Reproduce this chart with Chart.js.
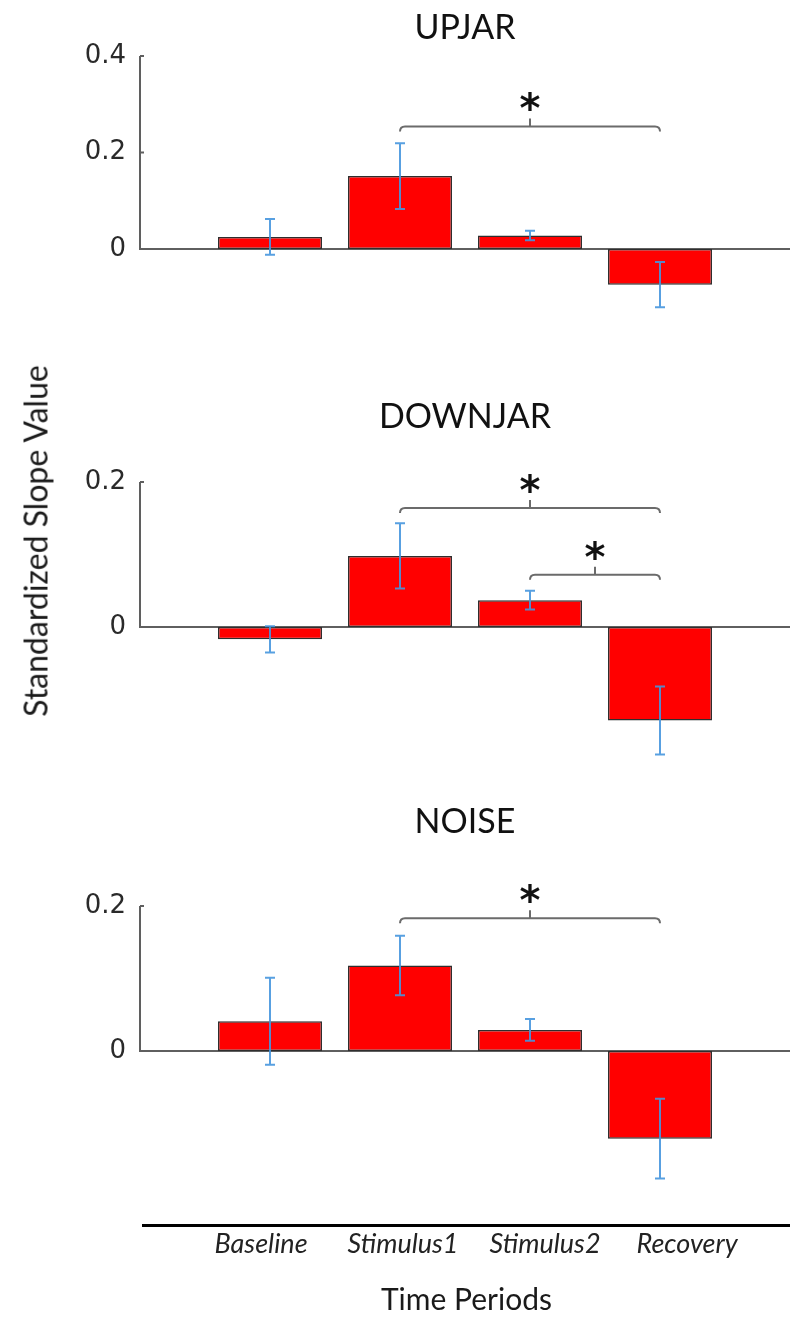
<!DOCTYPE html>
<html>
<head>
<meta charset="utf-8">
<script src="https://cdn.jsdelivr.net/npm/chart.js@4"></script>
<style>
  body { margin: 0; background: #fff; }
  #wrap { position: relative; width: 790px; height: 1321px; overflow: hidden; }
  .panel { position: absolute; left: 0; width: 790px; }
  #yTitle {
    position: absolute; left: 35px; top: 541px;
    transform: translate(-50%, -50%) rotate(-90deg);
    font: 32px Lato, sans-serif; color: #1a1a1a; white-space: nowrap;
  }
</style>
</head>
<body>
<div id="wrap">
  <div class="panel" style="top:0;height:320px"><canvas id="upjar"></canvas></div>
  <div class="panel" style="top:320px;height:460px"><canvas id="downjar"></canvas></div>
  <div class="panel" style="top:780px;height:420px"><canvas id="noise"></canvas></div>
  <div class="panel" style="top:1200px;height:121px"><canvas id="periods"></canvas></div>
  <div id="yTitle">Standardized Slope Value</div>
</div>
<script>
const categories = ['Baseline', 'Stimulus1', 'Stimulus2', 'Recovery'];

// mean slope and error (half-length of the bar) per time period
const upjarMean = [0.025, 0.151, 0.028, -0.074];
const upjarErr = [0.037, 0.068, 0.010, 0.047];
const downjarMean = [-0.017, 0.098, 0.037, -0.129];
const downjarErr = [0.018, 0.045, 0.013, 0.047];
const noiseMean = [0.041, 0.118, 0.029, -0.121];
const noiseErr = [0.060, 0.041, 0.015, 0.055];

// significance brackets: [from period, to period, bracket height]
const upjarSig = [[1, 3, 0.254]];
const downjarSig = [[1, 3, 0.164], [2, 3, 0.072]];
const noiseSig = [[1, 3, 0.183]];

const upjarTicks = [0, 0.2, 0.4];
const downjarTicks = [0, 0.2];
const noiseTicks = [0, 0.2];

Chart.defaults.font.family = 'Lato';

// half y axis, error bars and the star brackets
function marks(means, errs, sig) {
  return {
    id: 'marks',
    afterDatasetsDraw(chart) {
      const { ctx, chartArea } = chart;
      const x = chart.scales.x, y = chart.scales.y;
      ctx.save();

      const tv = y.ticks.map(t => t.value);
      ctx.strokeStyle = '#5f5f5f';
      ctx.lineWidth = 2;
      ctx.beginPath();
      ctx.moveTo(chartArea.left, y.getPixelForValue(0));
      ctx.lineTo(chartArea.left, y.getPixelForValue(Math.max(...tv)));
      tv.forEach(v => {
        if (v === 0) return;
        const py = y.getPixelForValue(v);
        ctx.moveTo(chartArea.left, py);
        ctx.lineTo(chartArea.left + 4, py);
      });
      ctx.stroke();

      ctx.strokeStyle = 'rgba(70,150,222,0.9)';
      ctx.lineWidth = 2;
      means.forEach((m, i) => {
        const px = x.getPixelForValue(i + 1);
        const hi = y.getPixelForValue(m + errs[i]);
        const lo = y.getPixelForValue(m - errs[i]);
        ctx.beginPath();
        ctx.moveTo(px, hi); ctx.lineTo(px, lo);
        ctx.moveTo(px - 5, hi); ctx.lineTo(px + 5, hi);
        ctx.moveTo(px - 5, lo); ctx.lineTo(px + 5, lo);
        ctx.stroke();
      });

      sig.forEach(([a, b, level]) => {
        const x1 = x.getPixelForValue(a + 1);
        const x2 = x.getPixelForValue(b + 1);
        const py = y.getPixelForValue(level);
        const mid = (x1 + x2) / 2;
        ctx.strokeStyle = '#6b6b6b';
        ctx.lineWidth = 2;
        ctx.beginPath();
        ctx.moveTo(x1, py + 5);
        ctx.quadraticCurveTo(x1, py, x1 + 5, py);
        ctx.lineTo(x2 - 5, py);
        ctx.quadraticCurveTo(x2, py, x2, py + 5);
        ctx.moveTo(mid, py);
        ctx.lineTo(mid, py - 8);
        ctx.stroke();

        ctx.fillStyle = '#111';
        ctx.font = 'bold 40px "DejaVu Sans"';
        ctx.textAlign = 'center';
        ctx.textBaseline = 'alphabetic';
        const tm = ctx.measureText('*');
        const cy = py - 25;
        ctx.fillText('*', mid, cy + (tm.actualBoundingBoxAscent - tm.actualBoundingBoxDescent) / 2);
      });

      ctx.restore();
    }
  };
}

function panel(id, title, means, errs, sig, yTicks, yMin, yMax, titlePad, padBottom) {
  return new Chart(document.getElementById(id), {
    type: 'bar',
    data: {
      datasets: [{
        data: means.map((v, i) => ({ x: i + 1, y: v })),
        backgroundColor: '#ff0000',
        borderColor: '#2e2e2e',
        borderWidth: 1.5,
        borderSkipped: false,
        barPercentage: 0.8,
        categoryPercentage: 1
      }]
    },
    options: {
      responsive: true,
      maintainAspectRatio: false,
      animation: false,
      events: [],
      layout: { padding: { top: 0, bottom: padBottom, left: 0, right: 0 } },
      plugins: {
        legend: { display: false },
        tooltip: { enabled: false },
        title: {
          display: true,
          fullSize: false,
          text: title,
          color: '#111',
          font: { family: 'Lato', size: 34, weight: 'normal', lineHeight: 1.2 },
          padding: titlePad
        }
      },
      scales: {
        x: {
          type: 'linear',
          offset: false,
          min: 0,
          max: 5,
          position: { y: 0 },
          ticks: { display: false, stepSize: 1 },
          grid: { display: false },
          border: { color: '#5f5f5f', width: 2 },
          afterFit: s => { s.paddingLeft = 0; s.paddingRight = 0; }
        },
        y: {
          min: yMin,
          max: yMax,
          afterBuildTicks: s => { s.ticks = yTicks.map(v => ({ value: v })); },
          afterFit: s => { s.width = 140; s.paddingTop = 0; s.paddingBottom = 0; },
          grid: { display: false },
          border: { display: false },
          ticks: {
            padding: 6,
            color: '#2a2a2a',
            font: { family: 'DejaVu Sans', size: 26 },
            callback: v => (v === 0 ? '0' : String(v))
          }
        }
      }
    },
    plugins: [marks(means, errs, sig)]
  });
}

panel('upjar', 'UPJAR', upjarMean, upjarErr, upjarSig, upjarTicks, -0.14, 0.4,
  { top: 7.6, bottom: 7.6 }, 3.5);
panel('downjar', 'DOWNJAR', downjarMean, downjarErr, downjarSig, downjarTicks, -0.2, 0.2,
  { top: 76.6, bottom: 44.6 }, 8);
panel('noise', 'NOISE', noiseMean, noiseErr, noiseSig, noiseTicks, -0.2, 0.2,
  { top: 21.6, bottom: 63.6 }, 4);

// shared time-period axis under the three panels
new Chart(document.getElementById('periods'), {
  type: 'scatter',
  data: { datasets: [] },
  options: {
    responsive: true,
    maintainAspectRatio: false,
    animation: false,
    events: [],
    layout: { padding: { left: 143, right: 0, top: 0, bottom: 0 } },
    plugins: { legend: { display: false }, tooltip: { enabled: false } },
    scales: {
      y: { display: false },
      x: {
        type: 'linear',
        min: 0.169,
        max: 4.725,
        afterBuildTicks: s => { s.ticks = categories.map((c, i) => ({ value: i + 1 })); },
        afterFit: s => { s.height = 96; s.paddingLeft = 0; s.paddingRight = 0; },
        grid: { display: false },
        border: { color: '#000', width: 3 },
        ticks: {
          padding: -5,
          maxRotation: 0,
          autoSkip: false,
          color: '#222',
          font: { family: 'Lato', size: 27, style: 'italic', lineHeight: 1.2 },
          callback: v => categories[v - 1]
        },
        title: {
          display: true,
          text: 'Time Periods',
          color: '#1a1a1a',
          font: { family: 'Lato', size: 30, lineHeight: 1.2 },
          padding: { top: 0, bottom: 3 }
        }
      }
    }
  }
});
</script>
</body>
</html>
